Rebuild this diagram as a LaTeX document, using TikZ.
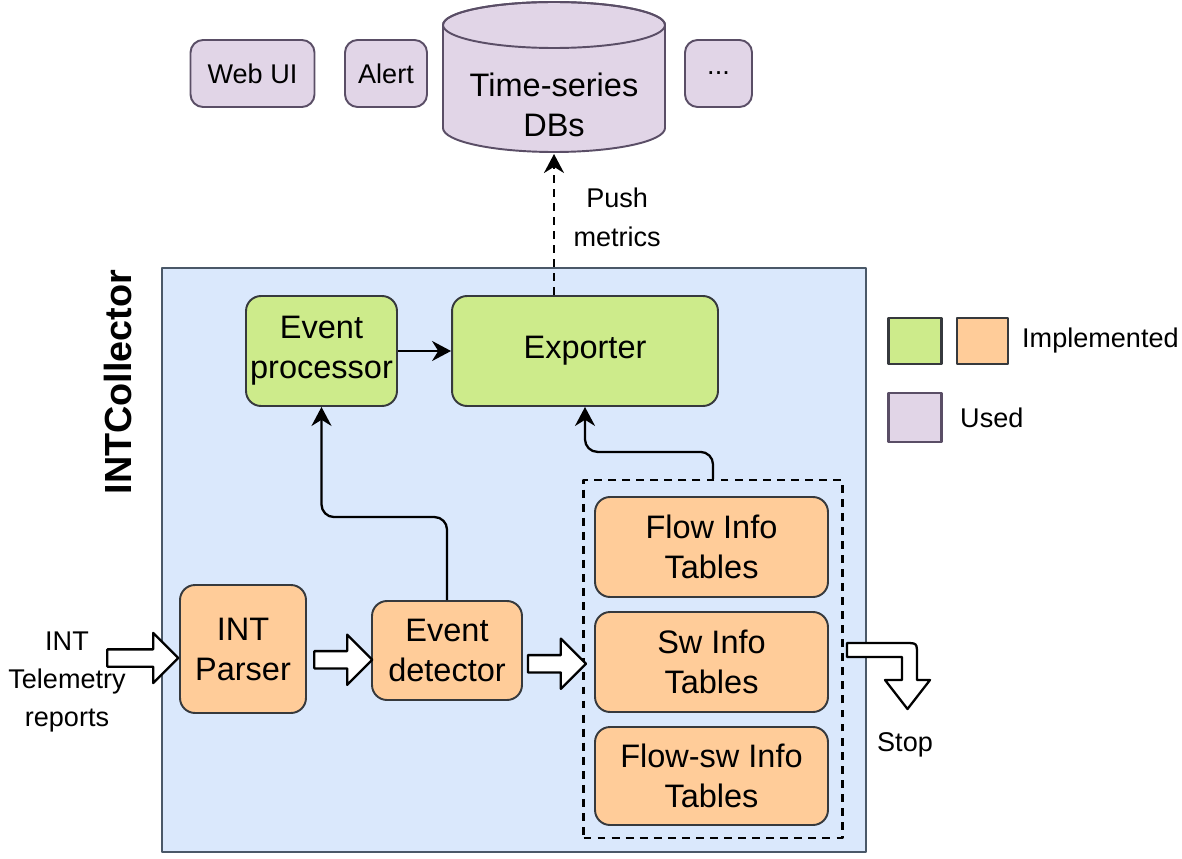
\documentclass[tikz,border=0pt]{standalone}
\usepackage{fontspec}
\setmainfont{Liberation Sans}
\usetikzlibrary{shapes.arrows,arrows.meta,calc}
\definecolor{bluefill}{HTML}{DAE8FC}
\definecolor{blueline}{HTML}{4A5868}
\definecolor{greenfill}{HTML}{CDEB8B}
\definecolor{orangefill}{HTML}{FFCC99}
\definecolor{purplefill}{HTML}{E1D5E7}
\definecolor{purpleline}{HTML}{5A4E66}
\definecolor{boxline}{HTML}{36393D}
\begin{document}
\begin{tikzpicture}[x=0.02cm, y=-0.02cm, line join=round, >={Stealth[length=0.38cm,width=0.4cm]},
	mainfont/.style={font=\fontsize{18.5}{22.8}\selectfont},
	smallfont/.style={font=\fontsize{15.4}{21.8}\selectfont},
	box/.style={draw=boxline, line width=1.1pt, rounded corners=0.3cm, align=center, inner sep=0pt, mainfont},
	greenbox/.style={box, fill=greenfill},
	orangebox/.style={box, fill=orangefill},
	usedbox/.style={box, draw=purpleline, fill=purplefill, smallfont, rounded corners=0.25cm},
	conn/.style={->, line width=1.3pt, rounded corners=0.25cm},
	longdash/.style={dash pattern=on 4.5pt off 3.5pt},
	blockarrow/.style={single arrow, draw, fill=white, line width=1.3pt, inner sep=0.15cm, single arrow head extend=0.33cm, minimum height=#1},
	legendsq/.style={draw=boxline, line width=1.4pt, minimum width=1.06cm, minimum height=0.92cm, inner sep=0pt}]
	\useasboundingbox (0,0) rectangle (1182,858);
	% collector
	\node[draw=blueline, line width=1.1pt, fill=bluefill, minimum width=14.08cm, minimum height=11.68cm] (collector) at (514,560) {};
	\node[rotate=90, font=\fontsize{21.5}{24}\bfseries] (title) at (118,382) {INTCollector};
	% used tools
	\node[usedbox, minimum width=2.48cm, minimum height=1.34cm] (webui) at (252.5,73.5) {Web UI};
	\node[usedbox, minimum width=1.64cm, minimum height=1.34cm] (alert) at (386,73.5) {Alert};
	\node[usedbox, minimum width=1.34cm, minimum height=1.34cm] (more) at (718.5,73.5) {...};
	\filldraw[draw=purpleline, fill=purplefill, line width=1.1pt] (443,25) -- (443,128) arc (180:0:111 and 24) -- (665,25) arc (0:-180:111 and 23) -- cycle;
	\draw[draw=purpleline, line width=1.1pt] (554,25) ellipse (111 and 23);
	\node[mainfont, align=center, minimum width=4.44cm] (db) at (554,105) {Time-series\\DBs};
	% blocks
	\node[greenbox, minimum width=3.02cm, minimum height=2.2cm] (evproc) at (321.5,351) {Event\\processor};
	\node[greenbox, minimum width=5.32cm, minimum height=2.2cm] (exporter) at (585,351) {Exporter};
	\node[orangebox, minimum width=2.52cm, minimum height=2.56cm] (parser) at (243,649) {INT\\Parser};
	\node[orangebox, minimum width=3.0cm, minimum height=1.98cm] (detector) at (447,650.5) {Event\\detector};
	\node[draw, longdash, line width=1.3pt, minimum width=5.18cm, minimum height=7.16cm] (tables) at (713,659) {};
	\node[orangebox, minimum width=4.66cm, minimum height=2.0cm] (flowtab) at (711.5,547) {Flow Info\\Tables};
	\node[orangebox, minimum width=4.66cm, minimum height=2.0cm] (swtab) at (711.5,662) {Sw Info\\Tables};
	\node[orangebox, minimum width=4.66cm, minimum height=1.96cm] (flowswtab) at (711.5,776) {Flow-sw Info\\Tables};
	% block arrows
	\node[blockarrow=1.42cm] (inarrow) at (138.5,658) {};
	\node[blockarrow=1.16cm] (pdarrow) at ($(parser.east)!.5!(detector.west)+(0,10)$) {};
	\node[blockarrow=1.16cm] (dtarrow) at ($(detector.east)!.5!(tables.west)+(0,9)$) {};
	\draw[line width=1.3pt, fill=white] (847,643) -- (905,643) .. controls (917,643) .. (917,655) -- (917,680) -- (930,680) -- (907.5,709) -- (885,680) -- (902,680) -- (902,657) -- (847,657) -- cycle;
	\node[smallfont, align=center] (inlabel) at (67,682) {INT\\Telemetry\\reports};
	\node[smallfont] (stop) at (905,745) {Stop};
	% connectors
	\draw[conn] (evproc) -- (exporter);
	\draw[conn, longdash] (exporter.north -| db.center) -- (554,154) node[pos=0.55, right=0.25cm, smallfont, align=center] (push) {Push\\metrics};
	\draw[conn] (detector.north) -- ++(0,-83) -| (evproc.south);
	\draw[conn] (tables.north) -- ++(0,-27) -| (exporter.south);
	% legend
	\node[legendsq, fill=greenfill] (leggreen) at (915,341) {};
	\node[legendsq, fill=orangefill, minimum width=1.02cm] (legorange) at (982.5,341) {};
	\node[legendsq, draw=purpleline, fill=purplefill, minimum height=0.98cm] (legpurple) at (915,417.5) {};
	\node[smallfont, right] (implemented) at (1016,341) {Implemented};
	\node[smallfont, right] (used) at (954,418) {Used};
\end{tikzpicture}
\end{document}
